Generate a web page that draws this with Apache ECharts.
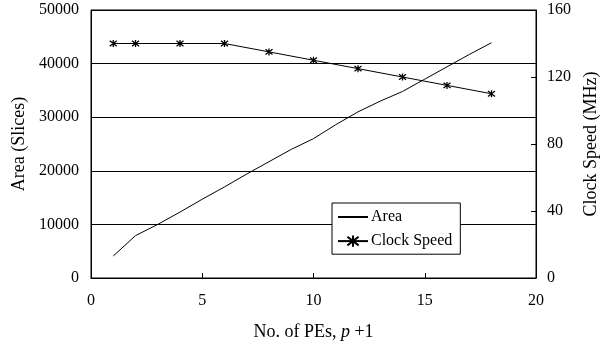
<!DOCTYPE html>
<html><head><meta charset="utf-8">
<script src="https://cdn.jsdelivr.net/npm/echarts@6/dist/echarts.min.js"></script>
<style>html,body{margin:0;padding:0;background:#fff}#c{width:609px;height:350px}</style>
</head><body><div id="c"></div>
<script>
const areaX = [1,2,3,4,5,6,7,8,9,10,11,12,13,14,15,16,17,18];
const areaY = [4100,7900,10000,12300,14700,17000,19400,21700,24000,26000,28600,31000,33000,34800,37100,39400,41700,43900];
const clockX = [1,2,4,6,8,10,12,14,16,18];
const clockY = [140,140,140,140,135,130,125,120,115,110];
const xTicks = [0,5,10,15,20];
const leftTicks = [0,10000,20000,30000,40000,50000];
const rightTicks = [0,40,80,120,160];

const F = '"Liberation Serif","Times New Roman",serif';
const star = 'path://M-1,-1L1,1M1,-1L-1,1M0,-1.3L0,1.3';
const chart = echarts.init(document.getElementById('c'));
chart.setOption({
  animation:false,
  backgroundColor:'#fff',
  textStyle:{fontFamily:F,color:'#000'},
  grid:{left:91,right:73,top:10,bottom:72,show:true,borderColor:'#000',borderWidth:1},
  legend:{
    orient:'vertical', left:332, top:203, width:124,
    backgroundColor:'#fff', borderColor:'#000', borderWidth:1,
    padding:[6,8,5,5], itemGap:8, itemWidth:30, itemHeight:14,
    textStyle:{fontFamily:F,fontSize:16,color:'#000',padding:[0,0,0,-2]},
    data:[{name:'Area'},{name:'Clock Speed'}]
  },
  xAxis:{
    type:'value', min:xTicks[0], max:xTicks[xTicks.length-1], interval:5,
    name:'No. of PEs, {i|p} +1', nameLocation:'middle', nameGap:45,
    nameTextStyle:{fontFamily:F,fontSize:18,color:'#000',rich:{i:{fontFamily:F,fontSize:18,fontStyle:'italic',color:'#000'}}},
    axisLine:{lineStyle:{color:'#000',width:1}},
    axisTick:{inside:true,length:5,lineStyle:{color:'#000'}},
    axisLabel:{fontFamily:F,fontSize:16,color:'#000',margin:15},
    splitLine:{show:false}
  },
  yAxis:[{
    type:'value', min:leftTicks[0], max:leftTicks[leftTicks.length-1], interval:10000,
    name:'Area (Slices)', nameLocation:'middle', nameGap:63, nameRotate:90,
    nameTextStyle:{fontFamily:F,fontSize:18,color:'#000'},
    axisLine:{show:true,lineStyle:{color:'#000'}},
    axisTick:{show:false},
    axisLabel:{fontFamily:F,fontSize:16,color:'#000',margin:12,formatter:v=>String(v)},
    splitLine:{show:true,lineStyle:{color:'#000',width:1}}
  },{
    type:'value', position:'right', min:rightTicks[0], max:rightTicks[rightTicks.length-1], interval:40,
    name:'Clock Speed (MHz)', nameLocation:'middle', nameGap:43, nameRotate:90,
    nameTextStyle:{fontFamily:F,fontSize:18,color:'#000'},
    axisLine:{show:true,lineStyle:{color:'#000'}},
    axisTick:{inside:true,length:5,lineStyle:{color:'#000'}},
    axisLabel:{fontFamily:F,fontSize:16,color:'#000',margin:11,formatter:v=>String(v)},
    splitLine:{show:false}
  }],
  series:[{
    name:'Area', type:'line', yAxisIndex:0, symbol:'path://M0,0L1,1', showSymbol:false,
    lineStyle:{color:'#000',width:1}, itemStyle:{color:'#000',borderWidth:0},
    data:areaX.map((x,i)=>[x,areaY[i]])
  },{
    name:'Clock Speed', type:'line', yAxisIndex:1, symbol:star, symbolSize:7,
    lineStyle:{color:'#000',width:1},
    itemStyle:{color:'none',borderColor:'#000',borderWidth:1.3},
    data:clockX.map((x,i)=>[x,clockY[i]])
  }]
});
</script></body></html>
